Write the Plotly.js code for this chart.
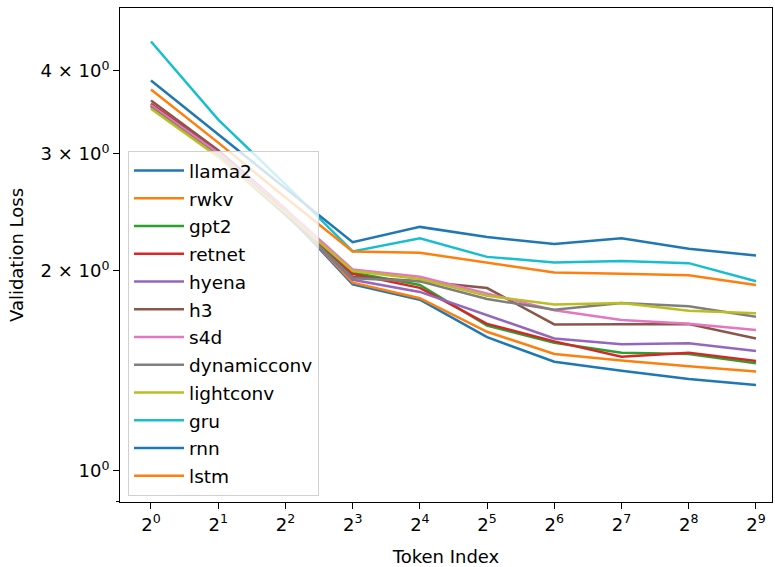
<!DOCTYPE html>
<html>
<head>
<meta charset="utf-8">
<script src="https://cdn.plot.ly/plotly-3.0.1.min.js"></script>
<style>html,body{margin:0;padding:0;background:#fff;}#chart{width:775px;height:567px;}</style>
</head>
<body>
<div id="chart"></div>
<script>
const tokenIndex = [1, 2, 4, 8, 16, 32, 64, 128, 256, 512];
const xTickLabels = ['2<sup>0</sup>','2<sup>1</sup>','2<sup>2</sup>','2<sup>3</sup>','2<sup>4</sup>','2<sup>5</sup>','2<sup>6</sup>','2<sup>7</sup>','2<sup>8</sup>','2<sup>9</sup>'];
const yTickValues = [1, 2, 3, 4];
const yTickLabels = ['10<sup>0</sup>', '2 × 10<sup>0</sup>', '3 × 10<sup>0</sup>', '4 × 10<sup>0</sup>'];

const seriesNames = ['llama2','rwkv','gpt2','retnet','hyena','h3','s4d','dynamicconv','lightconv','gru','rnn','lstm'];
const llama2      = [3.55, 3.00, 2.45, 1.91, 1.81, 1.59, 1.46, 1.415, 1.375, 1.347];
const rwkv        = [3.56, 3.01, 2.46, 1.92, 1.82, 1.62, 1.50, 1.466, 1.438, 1.411];
const gpt2        = [3.54, 3.00, 2.46, 1.99, 1.905, 1.655, 1.56, 1.507, 1.50, 1.452];
const retnet      = [3.57, 3.02, 2.46, 1.98, 1.886, 1.665, 1.567, 1.486, 1.507, 1.464];
const hyena       = [3.55, 3.00, 2.44, 1.94, 1.86, 1.716, 1.583, 1.552, 1.557, 1.515];
const h3          = [3.61, 3.04, 2.48, 1.96, 1.93, 1.885, 1.662, 1.662, 1.664, 1.583];
const s4d         = [3.55, 3.01, 2.48, 2.01, 1.96, 1.85, 1.745, 1.688, 1.666, 1.63];
const dynamicconv = [3.53, 2.98, 2.43, 1.95, 1.93, 1.815, 1.748, 1.79, 1.77, 1.706];
const lightconv   = [3.51, 2.97, 2.45, 2.00, 1.945, 1.835, 1.78, 1.79, 1.743, 1.727];
const gru         = [4.43, 3.38, 2.70, 2.14, 2.24, 2.10, 2.06, 2.07, 2.055, 1.93];
const rnn         = [3.87, 3.21, 2.66, 2.21, 2.33, 2.25, 2.195, 2.24, 2.16, 2.11];
const lstm        = [3.75, 3.12, 2.58, 2.14, 2.13, 2.06, 1.99, 1.98, 1.97, 1.905];
const seriesValues = [llama2, rwkv, gpt2, retnet, hyena, h3, s4d, dynamicconv, lightconv, gru, rnn, lstm];
const colors = ['#1f77b4','#ff7f0e','#2ca02c','#d62728','#9467bd','#8c564b','#e377c2','#7f7f7f','#bcbd22','#17becf','#1f77b4','#ff7f0e'];

const FONT = 'DejaVu Sans, sans-serif';
const traces = seriesNames.map((n, i) => ({
  type: 'scatter', mode: 'lines', name: n, x: tokenIndex, y: seriesValues[i],
  line: {color: colors[i], width: 2.5}, legendgroup: 'g' + i
}));

const layout = {
  width: 775, height: 567,
  margin: {l: 120, r: 3, t: 8, b: 65},
  paper_bgcolor: '#fff', plot_bgcolor: '#fff',
  font: {family: FONT, size: 18, color: '#000'},
  showlegend: true,
  legend: {
    x: 0.0123, y: 0.7105, xanchor: 'left', yanchor: 'top',
    bgcolor: 'rgba(255,255,255,0.8)', bordercolor: '#d0d0d0', borderwidth: 1,
    font: {family: FONT, size: 18.5, color: '#000'}, tracegroupgap: 0.7,
    itemwidth: 50
  },
  xaxis: {
    type: 'log', range: [-0.1388, 2.781],
    tickmode: 'array', tickvals: tokenIndex, ticktext: xTickLabels,
    ticks: 'outside', ticklen: 6, tickwidth: 1, tickcolor: '#000',
    showline: true, mirror: true, linecolor: '#000', linewidth: 1,
    showgrid: false, zeroline: false,
    tickfont: {family: FONT, size: 18, color: '#000'},
    title: {text: 'Token Index', font: {family: FONT, size: 18, color: '#000'}, standoff: 16}
  },
  yaxis: {
    type: 'log', range: [-0.0467, 0.6968],
    tickmode: 'array', tickvals: yTickValues, ticktext: yTickLabels,
    ticks: 'outside', ticklen: 6, tickwidth: 1, tickcolor: '#000',
    minor: {tickmode: 'array', tickvals: [0.9], ticks: 'outside', ticklen: 3.5, tickcolor: '#000'},
    showline: true, mirror: true, linecolor: '#000', linewidth: 1,
    showgrid: false, zeroline: false,
    tickfont: {family: FONT, size: 18, color: '#000'},
    title: {text: 'Validation Loss', font: {family: FONT, size: 18, color: '#000'}, standoff: 12}
  }
};

Plotly.newPlot('chart', traces, layout, {displayModeBar: false, staticPlot: true});
</script>
</body>
</html>
